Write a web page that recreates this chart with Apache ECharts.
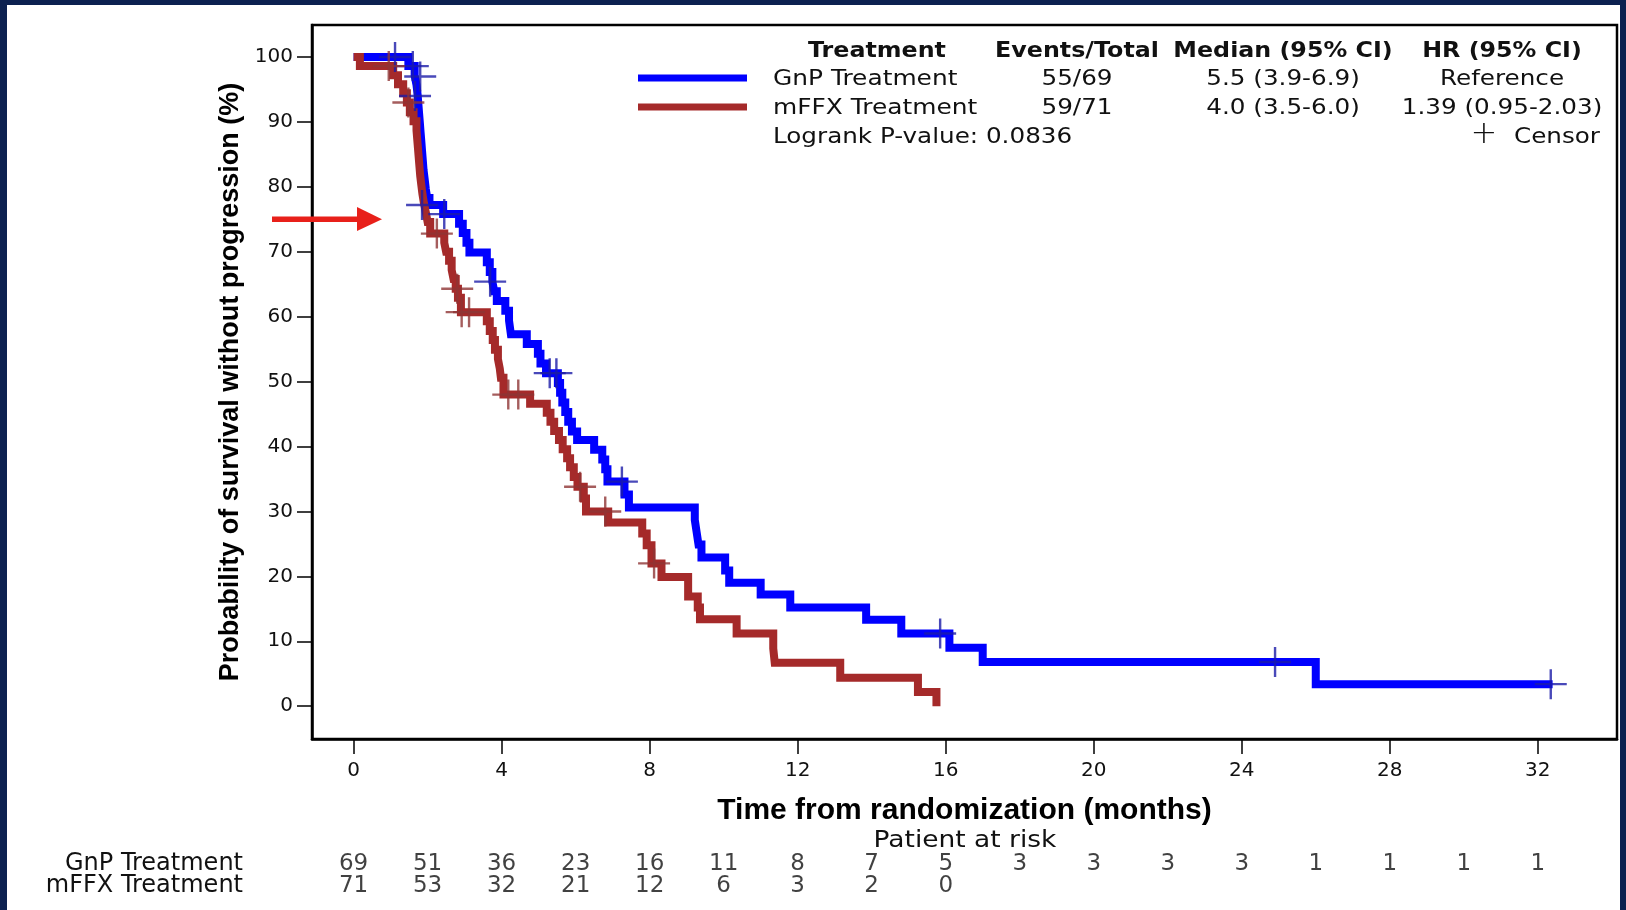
<!DOCTYPE html>
<html><head><meta charset="utf-8">
<script src="https://cdn.jsdelivr.net/npm/echarts@6/dist/echarts.min.js"></script>
<style>html,body{margin:0;padding:0;background:#fff;overflow:hidden}#c{width:1626px;height:910px}</style>
</head><body><div id="c"></div>
<script>
// ---- data ----
const xTicks = [0, 4, 8, 12, 16, 20, 24, 28, 32];
const yTicks = [0, 10, 20, 30, 40, 50, 60, 70, 80, 90, 100];
const seriesNames = ['GnP Treatment', 'mFFX Treatment'];

const gnpTimes = [0, 1.48, 1.65, 1.70, 1.73, 1.75, 1.77, 1.79, 1.81, 1.83, 1.85, 1.87, 1.89, 1.92, 1.95, 1.99, 2.05, 2.42, 2.85, 2.95, 3.05, 3.13, 3.6, 3.68, 3.75, 3.8, 3.87, 4.1, 4.2, 4.25, 4.68, 4.98, 5.05, 5.2, 5.52, 5.58, 5.64, 5.72, 5.8, 5.9, 6.04, 6.5, 6.72, 6.8, 6.86, 7.32, 7.44, 9.22, 9.27, 9.32, 9.4, 10.04, 10.15, 11.0, 11.8, 13.85, 14.8, 16.1, 17.0, 26.0, 32.4];
const gnpSurv  = [100, 98.6, 97.1, 95.7, 94.2, 92.8, 91.3, 89.9, 88.4, 87.0, 85.5, 84.1, 82.6, 81.2, 79.7, 78.3, 77.2, 75.8, 74.3, 72.9, 71.4, 69.9, 68.4, 66.9, 65.4, 63.9, 62.4, 60.9, 59.4, 57.3, 55.8, 54.3, 52.8, 51.3, 49.8, 48.3, 46.8, 45.3, 43.8, 42.3, 41.0, 39.5, 38.0, 36.5, 34.6, 32.6, 30.6, 28.7, 26.8, 24.9, 22.9, 20.9, 19.0, 17.2, 15.2, 13.3, 11.2, 9.0, 6.8, 3.4, 3.4];

const mffxTimes = [0, 0.17, 1.07, 1.2, 1.34, 1.44, 1.52, 1.62, 1.7, 1.72, 1.74, 1.76, 1.78, 1.8, 1.83, 1.86, 1.9, 1.95, 2.0, 2.07, 2.45, 2.5, 2.58, 2.65, 2.7, 2.76, 2.82, 2.9, 3.6, 3.68, 3.76, 3.82, 3.9, 3.95, 3.98, 4.05, 4.77, 5.22, 5.32, 5.42, 5.55, 5.65, 5.77, 5.85, 5.95, 6.05, 6.22, 6.28, 6.88, 7.8, 7.92, 8.05, 8.32, 9.04, 9.3, 9.36, 10.35, 11.34, 11.38, 13.15, 15.25, 15.75];
const mffxSurv  = [100, 98.6, 97.2, 95.8, 94.4, 93.0, 91.5, 90.1, 88.7, 87.3, 85.9, 84.5, 83.1, 81.7, 80.3, 78.9, 77.5, 76.1, 74.6, 72.8, 71.4, 70.0, 68.6, 67.2, 65.8, 64.3, 62.9, 60.7, 59.3, 57.8, 56.4, 54.9, 53.5, 52.0, 50.6, 48.0, 46.6, 45.2, 43.8, 42.4, 41.0, 39.6, 38.2, 36.8, 35.3, 33.8, 32.0, 30.0, 28.3, 26.6, 24.8, 22.0, 19.9, 16.9, 15.2, 13.4, 11.2, 8.9, 6.7, 4.4, 2.2, 0];

const gnpCensorT = [1.12, 1.6, 1.8, 1.66, 1.85, 2.45, 3.69, 5.3, 5.48, 7.25, 15.85, 24.9, 32.35];
const gnpCensorS = [100, 98.6, 97.0, 94.0, 77.2, 75.8, 65.4, 51.3, 51.3, 34.6, 11.2, 6.8, 3.4];
const mffxCensorT = [0.95, 1.48, 2.25, 2.8, 2.92, 3.12, 4.18, 4.45, 6.12, 6.8, 8.12];
const mffxCensorS = [98.6, 93.0, 72.8, 64.3, 60.7, 60.7, 48.0, 48.0, 33.8, 30.0, 22.0];

const riskTimes = [0, 2, 4, 6, 8, 10, 12, 14, 16, 18, 20, 22, 24, 26, 28, 30, 32];
const gnpRisk  = [69, 51, 36, 23, 16, 11, 8, 7, 5, 3, 3, 3, 3, 1, 1, 1, 1];
const mffxRisk = [71, 53, 32, 21, 12, 6, 3, 2, 0];

const tableHeader = ['Treatment', 'Events/Total', 'Median (95% CI)', 'HR (95% CI)'];
const tableRows = [
  ['GnP Treatment', '55/69', '5.5 (3.9-6.9)', 'Reference'],
  ['mFFX Treatment', '59/71', '4.0 (3.5-6.0)', '1.39 (0.95-2.03)']
];
const logrankText = 'Logrank P-value: 0.0836';
const censorText = ['+', 'Censor'];

// ---- styles ----
const BLUE = '#0000ff', RED = '#a52a2a';
const BLUE_C = '#1c1ca8', RED_C = '#8e3434';
const FONT = 'DejaVu Sans';
const BOLDF = 'Liberation Sans';
const XMIN = -1.124, XMAX = 34.14, YMIN = -5.05, YMAX = 104.93;
const plusPath = 'path://M0,13.8H32V16.2H0Z M14.8,0H17.2V30H14.8Z';

const zip = (a, b) => a.map((v, i) => [v, b[i]]);

const chart = echarts.init(document.getElementById('c'), null, {renderer: 'canvas'});

const g = [];
function txt(t, x, y, align, font, sx) {
  g.push({type: 'text', z: 60, x: x, y: y, scaleX: sx || 1,
    style: {text: t, x: 0, y: 0, textAlign: align, textVerticalAlign: 'middle', font: font, fill: '#111'}});
}
// dark frame of the slide
g.push({type: 'rect', shape: {x: 0, y: 0, width: 7, height: 910}, style: {fill: '#0c2150'}, z: 100});
g.push({type: 'rect', shape: {x: 0, y: 0, width: 1626, height: 5}, style: {fill: '#0c2150'}, z: 100});
g.push({type: 'rect', shape: {x: 1620, y: 0, width: 6, height: 910}, style: {fill: '#0c2150'}, z: 100});
// red arrow
g.push({type: 'rect', shape: {x: 272, y: 216.5, width: 88, height: 5.5}, style: {fill: '#e8201a'}, z: 50});
g.push({type: 'polygon', shape: {points: [[357, 207], [382, 219.2], [357, 231]]}, style: {fill: '#e8201a'}, z: 50});
// table
const colX = [877, 1077, 1283, 1502];
tableHeader.forEach((t, i) => txt(t, colX[i], 51, 'center', 'bold 22px "' + FONT + '"', 1.08));
const rowY = [79, 108];
const rowCol = [BLUE, RED];
tableRows.forEach((r, ri) => {
  g.push({type: 'line', z: 60, shape: {x1: 638, y1: rowY[ri] - 1, x2: 747, y2: rowY[ri] - 1}, style: {stroke: rowCol[ri], lineWidth: 7}});
  txt(r[0], 773, rowY[ri], 'left', '22px "' + FONT + '"', 1.13);
  for (let c = 1; c < 4; c++) txt(r[c], colX[c], rowY[ri], 'center', '22px "' + FONT + '"', 1.12);
});
txt(logrankText, 773, 137, 'left', '22px "' + FONT + '"', 1.12);
txt(censorText[0], 1484, 135, 'center', '300 32px "' + FONT + '"', 1);
txt(censorText[1], 1600, 137, 'right', '22px "' + FONT + '"', 1.12);
txt('Patient at risk', 965, 841, 'center', '23px "' + FONT + '"', 1.15);

const riskData = [];
gnpRisk.forEach((n, i) => riskData.push([riskTimes[i], seriesNames[0], n]));
mffxRisk.forEach((n, i) => riskData.push([riskTimes[i], seriesNames[1], n]));

const option = {
  backgroundColor: '#fff',
  animation: false,
  grid: [
    {left: 312, right: 9, top: 25, height: 714, show: true, borderColor: '#000', borderWidth: 2.5, backgroundColor: 'transparent'},
    {left: 312, right: 9, top: 853, height: 44, show: false}
  ],
  xAxis: [
    {type: 'value', gridIndex: 0, min: XMIN, max: XMAX,
     name: 'Time from randomization (months)', nameLocation: 'middle', nameGap: 57,
     nameTextStyle: {fontFamily: BOLDF, fontWeight: 'bold', fontSize: 30, color: '#000'},
     axisLine: {show: true, onZero: false, lineStyle: {color: '#000', width: 2.5}},
     axisTick: {show: true, length: 15, lineStyle: {color: '#000', width: 1.5}, customValues: xTicks},
     axisLabel: {show: true, margin: 22, fontFamily: FONT, fontSize: 20, color: '#111', customValues: xTicks},
     splitLine: {show: false}},
    {type: 'value', gridIndex: 1, min: XMIN, max: XMAX, show: false}
  ],
  yAxis: [
    {type: 'value', gridIndex: 0, min: YMIN, max: YMAX,
     name: 'Probability of survival without progression (%)', nameLocation: 'middle', nameGap: 63, nameRotate: 90,
     nameTextStyle: {fontFamily: BOLDF, fontWeight: 'bold', fontSize: 27, color: '#000'},
     axisLine: {show: true, onZero: false, lineStyle: {color: '#000', width: 2.5}},
     axisTick: {show: true, length: 15, lineStyle: {color: '#000', width: 1.5}, customValues: yTicks},
     axisLabel: {show: true, margin: 19, fontFamily: FONT, fontSize: 20, color: '#111', customValues: yTicks},
     splitLine: {show: false}},
    {type: 'category', gridIndex: 1, data: [seriesNames[1], seriesNames[0]],
     axisLine: {show: false}, axisTick: {show: false},
     axisLabel: {show: true, interval: 0, margin: 69, fontFamily: FONT, fontSize: 24, color: '#111'}}
  ],
  series: [
    {name: seriesNames[0], type: 'line', step: 'end', xAxisIndex: 0, yAxisIndex: 0, data: zip(gnpTimes, gnpSurv),
     symbol: 'none', lineStyle: {color: BLUE, width: 8, cap: 'butt', join: 'miter'}, z: 3},
    {name: seriesNames[1], type: 'line', step: 'end', xAxisIndex: 0, yAxisIndex: 0, data: zip(mffxTimes, mffxSurv),
     symbol: 'none', lineStyle: {color: RED, width: 8, cap: 'butt', join: 'miter'}, z: 4},
    {name: 'GnP censor', type: 'scatter', xAxisIndex: 0, yAxisIndex: 0, data: zip(gnpCensorT, gnpCensorS),
     symbol: plusPath, symbolSize: [32, 30], itemStyle: {color: BLUE_C}, z: 5},
    {name: 'mFFX censor', type: 'scatter', xAxisIndex: 0, yAxisIndex: 0, data: zip(mffxCensorT, mffxCensorS),
     symbol: plusPath, symbolSize: [32, 30], itemStyle: {color: RED_C}, z: 6},
    {name: 'at risk', type: 'scatter', xAxisIndex: 1, yAxisIndex: 1, data: riskData, symbolSize: 1,
     itemStyle: {color: 'rgba(0,0,0,0)'},
     label: {show: true, position: 'inside', formatter: p => String(p.value[2]), fontFamily: FONT, fontSize: 23, color: '#111'}}
  ],
  graphic: g
};
chart.setOption(option);
</script>
</body></html>
